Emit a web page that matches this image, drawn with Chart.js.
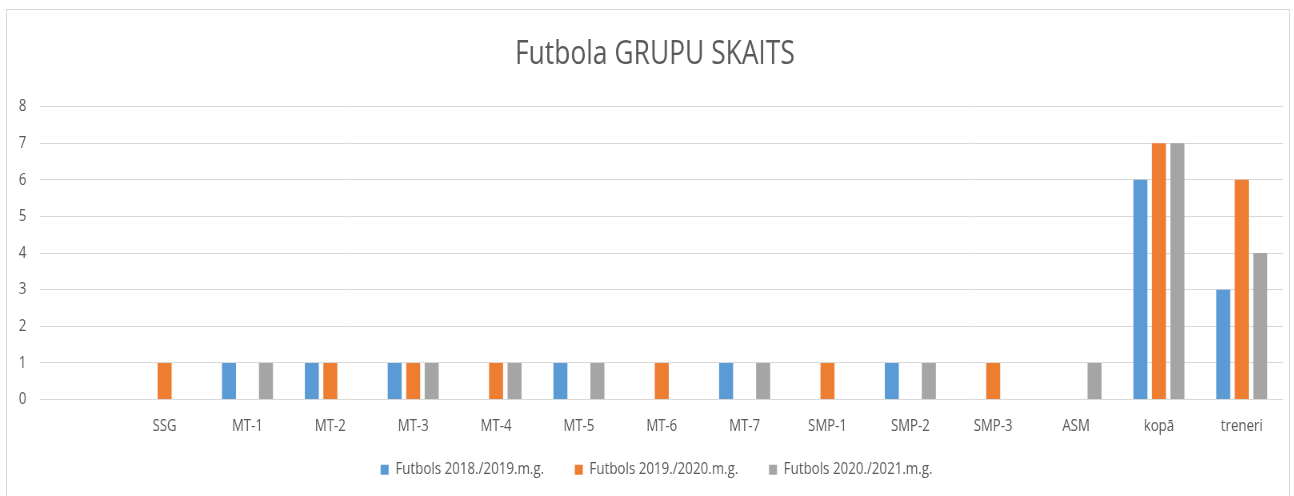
<!DOCTYPE html>
<html lang="lv">
    <head>
        <meta charset="UTF-8" />
        <title>Futbola GRUPU SKAITS</title>
        <style>
            body {
                margin: 0;
                background: #ffffff;
                overflow: hidden;
            }
            .frame {
                position: absolute;
                left: 6px;
                top: 9px;
                width: 1284px;
                height: 500px;
                border: 1px solid #d9d9d9;
                box-sizing: border-box;
            }
            /* the original picture is squeezed sideways, so draw wide and squeeze */
            .chartBox {
                position: absolute;
                left: 0;
                top: 0;
                width: 1618px;
                height: 496px;
                transform: scaleX(0.8);
                transform-origin: 0 0;
            }
        </style>
    </head>
    <body>
        <div class="frame"></div>
        <div class="chartBox">
            <canvas id="barChart"></canvas>
        </div>

        <script src="https://cdn.jsdelivr.net/npm/chart.js"></script>
        <script>
            // categories (first one is empty in the original)
            const categories = ["", "SSG", "MT-1", "MT-2", "MT-3", "MT-4", "MT-5", "MT-6", "MT-7", "SMP-1", "SMP-2", "SMP-3", "ASM", "kopā", "treneri"];

            // series values
            const season2018 = [0, 0, 1, 1, 1, 0, 1, 0, 1, 0, 1, 0, 0, 6, 3];
            const season2019 = [0, 1, 0, 1, 1, 1, 0, 1, 0, 1, 0, 1, 0, 7, 6];
            const season2020 = [0, 0, 1, 0, 1, 1, 1, 0, 1, 0, 1, 0, 1, 7, 4];

            const seriesNames = ["Futbols 2018./2019.m.g.", "Futbols 2019./2020.m.g.", "Futbols 2020./2021.m.g."];
            const yTicks = [0, 1, 2, 3, 4, 5, 6, 7, 8];

            const fontFamily = "'Open Sans', sans-serif";
            const textColor = "#595959";

            const data = {
                labels: categories,
                datasets: [
                    {
                        label: seriesNames[0],
                        data: season2018,
                        backgroundColor: "#5b9bd5",
                    },
                    {
                        label: seriesNames[1],
                        data: season2019,
                        backgroundColor: "#ed7d31",
                    },
                    {
                        label: seriesNames[2],
                        data: season2020,
                        backgroundColor: "#a5a5a5",
                    },
                ],
            };

            // default legend items, spaced out a bit more like the original
            const defaultLabels = Chart.defaults.plugins.legend.labels.generateLabels;

            const config = {
                type: "bar",
                data: data,
                options: {
                    responsive: false,
                    animation: false,
                    categoryPercentage: 0.67,
                    barPercentage: 0.757,
                    layout: {
                        padding: { left: 6, right: 14, top: 0, bottom: 8 },
                    },
                    plugins: {
                        title: {
                            display: true,
                            fullSize: false,
                            text: "Futbola GRUPU SKAITS\u00a0\u00a0",
                            color: textColor,
                            font: { family: fontFamily, size: 33, weight: "normal" },
                            padding: { top: 34.5, bottom: 32.5 },
                        },
                        legend: {
                            position: "bottom",
                            fullSize: false,
                            labels: {
                                color: textColor,
                                boxWidth: 10,
                                boxHeight: 10,
                                padding: 8,
                                font: { family: fontFamily, size: 16.7 },
                                generateLabels: function (chart) {
                                    const items = defaultLabels(chart);
                                    items.forEach(function (item, i) {
                                        const gap = i < items.length - 1 ? 7 : 3;
                                        item.text = item.text + "\u00a0".repeat(gap);
                                    });
                                    return items;
                                },
                            },
                        },
                        tooltip: { enabled: false },
                    },
                    scales: {
                        x: {
                            grid: { display: false, drawTicks: false },
                            border: { display: false },
                            ticks: {
                                color: textColor,
                                padding: 17,
                                font: { family: fontFamily, size: 16.5 },
                            },
                        },
                        y: {
                            min: 0,
                            max: 8,
                            afterBuildTicks: function (axis) {
                                axis.ticks = yTicks.map(function (v) {
                                    return { value: v };
                                });
                            },
                            grid: { color: "#d9d9d9", drawTicks: false },
                            border: { display: false },
                            ticks: {
                                color: textColor,
                                padding: 17.5,
                                font: { family: fontFamily, size: 16.5 },
                            },
                        },
                    },
                },
            };

            const canvas = document.getElementById("barChart");
            canvas.width = 1618;
            canvas.height = 496;
            const barChart = new Chart(canvas, config);
        </script>
    </body>
</html>
